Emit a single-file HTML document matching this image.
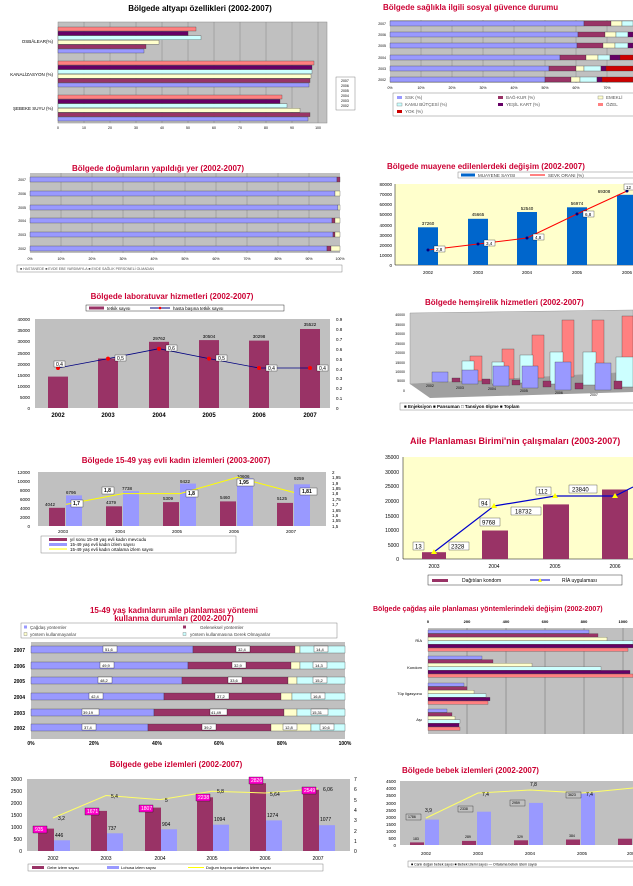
<!DOCTYPE html>
<html><head><meta charset="utf-8"><style>
body{margin:0;background:#fff}
svg{display:block}
text{font-family:"Liberation Sans",sans-serif}
.t{font-weight:bold;font-size:8px;fill:#cc0033;text-anchor:middle}
.tb{font-weight:bold;font-size:8px;fill:#000;text-anchor:middle}
.s{font-size:4.5px;fill:#000}
.m{font-size:6px;fill:#000}
.r{text-anchor:end}.c{text-anchor:middle}
</style></head><body>
<svg width="633" height="886" viewBox="0 0 633 886" xmlns="http://www.w3.org/2000/svg">
<rect width="633" height="886" fill="#fff"/>

<!-- Chart 1 -->
<text class="tb" x="200" y="11">Bölgede altyapı özellikleri (2002-2007)</text>
<rect x="58" y="22" width="269" height="101" fill="#c0c0c0" stroke="#888" stroke-width=".5"/>
<g stroke="#777" stroke-width=".4">
<line x1="84" y1="22" x2="84" y2="123"/><line x1="110" y1="22" x2="110" y2="123"/><line x1="136" y1="22" x2="136" y2="123"/><line x1="162" y1="22" x2="162" y2="123"/><line x1="188" y1="22" x2="188" y2="123"/><line x1="214" y1="22" x2="214" y2="123"/><line x1="240" y1="22" x2="240" y2="123"/><line x1="266" y1="22" x2="266" y2="123"/><line x1="292" y1="22" x2="292" y2="123"/><line x1="318" y1="22" x2="318" y2="123"/></g>
<g stroke="#333" stroke-width=".3">
<rect x="58" y="27" width="138" height="4" fill="#ff8080"/><rect x="58" y="31.4" width="130" height="4" fill="#660066"/><rect x="58" y="35.8" width="143" height="4" fill="#ccffff"/><rect x="58" y="40.2" width="101" height="4" fill="#ffffcc"/><rect x="58" y="44.6" width="88" height="4" fill="#993366"/><rect x="58" y="49" width="86" height="4" fill="#9999ff"/>
<rect x="58" y="61" width="256" height="4" fill="#ff8080"/><rect x="58" y="65.4" width="254" height="4" fill="#660066"/><rect x="58" y="69.8" width="254" height="4" fill="#ccffff"/><rect x="58" y="74.2" width="253" height="4" fill="#ffffcc"/><rect x="58" y="78.6" width="252" height="4" fill="#993366"/><rect x="58" y="83" width="251" height="4" fill="#9999ff"/>
<rect x="58" y="95" width="224" height="4" fill="#ff8080"/><rect x="58" y="99.4" width="222" height="4" fill="#660066"/><rect x="58" y="103.8" width="229" height="4" fill="#ccffff"/><rect x="58" y="108.2" width="242" height="4" fill="#ffffcc"/><rect x="58" y="112.6" width="252" height="4" fill="#993366"/><rect x="58" y="117" width="250" height="4" fill="#9999ff"/></g>
<g class="s"><text x="53" y="43" class="r">OSBÂLEAR(%)</text><text x="53" y="76" class="r">KANALİZASYON (%)</text><text x="53" y="110" class="r">ŞEBEKE SUYU (%)</text></g>
<g class="s" style="font-size:3.5px"><text x="58" y="129" class="c">0</text><text x="84" y="129" class="c">10</text><text x="110" y="129" class="c">20</text><text x="136" y="129" class="c">30</text><text x="162" y="129" class="c">40</text><text x="188" y="129" class="c">50</text><text x="214" y="129" class="c">60</text><text x="240" y="129" class="c">70</text><text x="266" y="129" class="c">80</text><text x="292" y="129" class="c">90</text><text x="318" y="129" class="c">100</text></g>
<rect x="336" y="77" width="19" height="33" fill="#fff" stroke="#666" stroke-width=".4"/>
<g class="s" style="font-size:3.5px"><text x="341" y="82">2007</text><text x="341" y="87">2006</text><text x="341" y="92">2005</text><text x="341" y="97">2004</text><text x="341" y="102">2003</text><text x="341" y="107">2002</text></g>

<!-- Chart 2 -->
<text class="t" x="510" y="10" style="text-anchor:start" transform="translate(-127 0)">Bölgede sağlıkla ilgili sosyal güvence durumu</text>
<rect x="390" y="20" width="243" height="63" fill="#c0c0c0"/>
<g stroke="#777" stroke-width=".4"><line x1="421" y1="20" x2="421" y2="83"/><line x1="452" y1="20" x2="452" y2="83"/><line x1="483" y1="20" x2="483" y2="83"/><line x1="514" y1="20" x2="514" y2="83"/><line x1="545" y1="20" x2="545" y2="83"/><line x1="576" y1="20" x2="576" y2="83"/><line x1="607" y1="20" x2="607" y2="83"/></g>
<g stroke="#333" stroke-width=".3">
<rect x="390" y="21" width="194" height="5" fill="#9999ff"/><rect x="584" y="21" width="27" height="5" fill="#993366"/><rect x="611" y="21" width="11" height="5" fill="#ffffcc"/><rect x="622" y="21" width="11" height="5" fill="#ccffff"/>
<rect x="390" y="32" width="188" height="5" fill="#9999ff"/><rect x="578" y="32" width="27" height="5" fill="#993366"/><rect x="605" y="32" width="11" height="5" fill="#ffffcc"/><rect x="616" y="32" width="12" height="5" fill="#ccffff"/><rect x="628" y="32" width="5" height="5" fill="#660066"/>
<rect x="390" y="43" width="187" height="5" fill="#9999ff"/><rect x="577" y="43" width="26" height="5" fill="#993366"/><rect x="603" y="43" width="12" height="5" fill="#ffffcc"/><rect x="615" y="43" width="13" height="5" fill="#ccffff"/><rect x="628" y="43" width="5" height="5" fill="#660066"/>
<rect x="390" y="55" width="170" height="5" fill="#9999ff"/><rect x="560" y="55" width="26" height="5" fill="#993366"/><rect x="586" y="55" width="12" height="5" fill="#ffffcc"/><rect x="598" y="55" width="12" height="5" fill="#ccffff"/><rect x="610" y="55" width="10" height="5" fill="#660066"/><rect x="620" y="55" width="13" height="5" fill="#cc0000"/>
<rect x="390" y="66" width="159" height="5" fill="#9999ff"/><rect x="549" y="66" width="27" height="5" fill="#993366"/><rect x="576" y="66" width="8" height="5" fill="#ffffcc"/><rect x="584" y="66" width="17" height="5" fill="#ccffff"/><rect x="601" y="66" width="5" height="5" fill="#660066"/><rect x="606" y="66" width="27" height="5" fill="#cc0000"/>
<rect x="390" y="77" width="155" height="5" fill="#9999ff"/><rect x="545" y="77" width="26" height="5" fill="#993366"/><rect x="571" y="77" width="9" height="5" fill="#ffffcc"/><rect x="580" y="77" width="17" height="5" fill="#ccffff"/><rect x="597" y="77" width="5" height="5" fill="#660066"/><rect x="602" y="77" width="31" height="5" fill="#cc0000"/></g>
<g class="s" style="font-size:3.5px"><text x="386" y="25" class="r">2007</text><text x="386" y="36" class="r">2006</text><text x="386" y="47" class="r">2005</text><text x="386" y="59" class="r">2004</text><text x="386" y="70" class="r">2003</text><text x="386" y="81" class="r">2002</text>
<text x="390" y="89" class="c">0%</text><text x="421" y="89" class="c">10%</text><text x="452" y="89" class="c">20%</text><text x="483" y="89" class="c">30%</text><text x="514" y="89" class="c">40%</text><text x="545" y="89" class="c">50%</text><text x="576" y="89" class="c">60%</text><text x="607" y="89" class="c">70%</text></g>
<rect x="393" y="93" width="245" height="23" fill="#fff" stroke="#666" stroke-width=".4"/>
<g class="s" style="fill:#555"><rect x="397" y="96" width="5" height="3" fill="#9999ff"/><text x="405" y="99">SSK (%)</text><rect x="498" y="96" width="5" height="3" fill="#993366"/><text x="506" y="99">BAĞ-KUR (%)</text><rect x="598" y="96" width="5" height="3" fill="#ffffcc" stroke="#555" stroke-width=".3"/><text x="606" y="99">EMEKLİ</text>
<rect x="397" y="103" width="5" height="3" fill="#ccffff" stroke="#555" stroke-width=".3"/><text x="405" y="106">KAMU BÜTÇESİ (%)</text><rect x="498" y="103" width="5" height="3" fill="#660066"/><text x="506" y="106">YEŞİL KART (%)</text><rect x="598" y="103" width="5" height="3" fill="#ff8080"/><text x="606" y="106">ÖZEL</text>
<rect x="397" y="110" width="5" height="3" fill="#cc0000"/><text x="405" y="113">YOK (%)</text></g>

<!-- Chart 3 -->
<text class="t" x="158" y="171">Bölgede doğumların yapıldığı yer (2002-2007)</text>
<rect x="30" y="173" width="310" height="80" fill="#c0c0c0"/>
<g stroke="#777" stroke-width=".4"><line x1="61" y1="173" x2="61" y2="253"/><line x1="92" y1="173" x2="92" y2="253"/><line x1="123" y1="173" x2="123" y2="253"/><line x1="154" y1="173" x2="154" y2="253"/><line x1="185" y1="173" x2="185" y2="253"/><line x1="216" y1="173" x2="216" y2="253"/><line x1="247" y1="173" x2="247" y2="253"/><line x1="278" y1="173" x2="278" y2="253"/><line x1="309" y1="173" x2="309" y2="253"/></g>
<g stroke="#333" stroke-width=".3">
<rect x="30" y="177" width="307" height="5" fill="#9999ff"/><rect x="337" y="177" width="3" height="5" fill="#993366"/>
<rect x="30" y="191" width="305" height="5" fill="#9999ff"/><rect x="335" y="191" width="5" height="5" fill="#ffffcc"/>
<rect x="30" y="205" width="308" height="5" fill="#9999ff"/><rect x="338" y="205" width="2" height="5" fill="#ffffcc"/>
<rect x="30" y="218" width="302" height="5" fill="#9999ff"/><rect x="332" y="218" width="3" height="5" fill="#993366"/><rect x="335" y="218" width="5" height="5" fill="#ffffcc"/>
<rect x="30" y="232" width="303" height="5" fill="#9999ff"/><rect x="333" y="232" width="2" height="5" fill="#993366"/><rect x="335" y="232" width="5" height="5" fill="#ffffcc"/>
<rect x="30" y="246" width="297" height="5" fill="#9999ff"/><rect x="327" y="246" width="4" height="5" fill="#993366"/><rect x="331" y="246" width="9" height="5" fill="#ffffcc"/></g>
<g class="s" style="font-size:3.5px"><text x="26" y="181" class="r">2007</text><text x="26" y="195" class="r">2006</text><text x="26" y="209" class="r">2005</text><text x="26" y="222" class="r">2004</text><text x="26" y="236" class="r">2003</text><text x="26" y="250" class="r">2002</text>
<text x="30" y="260" class="c">0%</text><text x="61" y="260" class="c">10%</text><text x="92" y="260" class="c">20%</text><text x="123" y="260" class="c">30%</text><text x="154" y="260" class="c">40%</text><text x="185" y="260" class="c">50%</text><text x="216" y="260" class="c">60%</text><text x="247" y="260" class="c">70%</text><text x="278" y="260" class="c">80%</text><text x="309" y="260" class="c">90%</text><text x="340" y="260" class="c">100%</text></g>
<rect x="17" y="265" width="325" height="7" fill="#fff" stroke="#666" stroke-width=".4"/>
<text class="s" x="20" y="270" style="font-size:3.5px;fill:#555">■ HASTANEDE  ■ EVDE EBE YARDIMIYLA  ■ EVDE SAĞLIK PERSONELİ OLMADAN</text>

<!-- Chart 4 -->
<text class="t" x="387" y="169" style="text-anchor:start">Bölgede muayene edilenlerdeki değişim (2002-2007)</text>
<rect x="458" y="172" width="180" height="6" fill="#fff" stroke="#666" stroke-width=".4"/>
<rect x="461" y="173.5" width="14" height="3" fill="#0066cc"/><text class="s" x="478" y="177" style="fill:#444">MUAYENE SAYISI</text>
<line x1="530" y1="175" x2="545" y2="175" stroke="#f00"/><text class="s" x="548" y="177" style="fill:#444">SEVK ORANI (%)</text>
<rect x="395" y="184" width="238" height="81" fill="#ffffcc"/>
<line x1="395" y1="184" x2="395" y2="265" stroke="#000" stroke-width=".5"/><line x1="395" y1="265" x2="633" y2="265" stroke="#000" stroke-width=".5"/>
<g class="s"><text x="392" y="267" class="r">0</text><text x="392" y="257" class="r">10000</text><text x="392" y="247" class="r">20000</text><text x="392" y="237" class="r">30000</text><text x="392" y="227" class="r">40000</text><text x="392" y="216" class="r">50000</text><text x="392" y="206" class="r">60000</text><text x="392" y="196" class="r">70000</text><text x="392" y="186" class="r">80000</text>
<text x="428" y="274" class="c">2002</text><text x="478" y="274" class="c">2003</text><text x="527" y="274" class="c">2004</text><text x="577" y="274" class="c">2005</text><text x="627" y="274" class="c">2006</text>
<text x="428" y="225" class="c">37260</text><text x="478" y="216" class="c">45665</text><text x="527" y="210" class="c">52540</text><text x="577" y="205" class="c">56974</text><text x="604" y="193" class="c">69308</text></g>
<g fill="#0066cc"><rect x="418" y="227.3" width="20" height="37.7"/><rect x="468" y="218.8" width="20" height="46.2"/><rect x="517" y="212" width="20" height="53"/><rect x="567" y="207.3" width="20" height="57.7"/><rect x="617" y="194.8" width="20" height="70.2"/></g>
<polyline points="428,250 478,244 527,238 577,214 627,191" fill="none" stroke="#f00" stroke-width="1"/>
<g fill="#000080"><circle cx="428" cy="250" r="1.5"/><circle cx="478" cy="244" r="1.5"/><circle cx="527" cy="238" r="1.5"/><circle cx="577" cy="214" r="1.5"/><circle cx="627" cy="191" r="1.5"/></g>
<g class="s"><rect x="434" y="246" width="11" height="6" fill="#fff" stroke="#000" stroke-width=".3"/><text x="436" y="251">2,8</text><rect x="484" y="240" width="11" height="6" fill="#fff" stroke="#000" stroke-width=".3"/><text x="486" y="245">3,4</text><rect x="533" y="234" width="11" height="6" fill="#fff" stroke="#000" stroke-width=".3"/><text x="535" y="239">4,8</text><rect x="583" y="211" width="11" height="6" fill="#fff" stroke="#000" stroke-width=".3"/><text x="585" y="216">6,8</text><rect x="624" y="184" width="11" height="6" fill="#fff" stroke="#000" stroke-width=".3"/><text x="626" y="189">12</text></g>

<!-- Chart 5 -->
<text class="t" x="172" y="299">Bölgede laboratuvar hizmetleri (2002-2007)</text>
<rect x="86" y="305" width="198" height="6" fill="#fff" stroke="#000" stroke-width=".4"/>
<rect x="89" y="306.5" width="15" height="3" fill="#993366"/><text class="s" x="107" y="310">tetkik sayısı</text>
<line x1="150" y1="308" x2="170" y2="308" stroke="#000080"/><circle cx="160" cy="308" r="1.3" fill="#f00"/><text class="s" x="173" y="310">hasta başına tetkik sayısı</text>
<rect x="35" y="319" width="295" height="89" fill="#c0c0c0"/>
<g class="s"><text x="30" y="410" class="r">0</text><text x="30" y="399" class="r">5000</text><text x="30" y="388" class="r">10000</text><text x="30" y="377" class="r">15000</text><text x="30" y="366" class="r">20000</text><text x="30" y="355" class="r">25000</text><text x="30" y="343" class="r">30000</text><text x="30" y="332" class="r">35000</text><text x="30" y="321" class="r">40000</text>
<text x="336" y="410">0</text><text x="336" y="400">0.1</text><text x="336" y="390">0.2</text><text x="336" y="380">0.3</text><text x="336" y="371">0.4</text><text x="336" y="361">0.5</text><text x="336" y="351">0.6</text><text x="336" y="341">0.7</text><text x="336" y="331">0.8</text><text x="336" y="321">0.9</text>
<text x="58" y="391" class="c">14126</text><text x="108" y="373" class="c">22260</text><text x="159" y="340" class="c">29762</text><text x="209" y="338" class="c">30504</text><text x="259" y="338" class="c">30298</text><text x="310" y="326" class="c">35522</text></g>
<g fill="#993366"><rect x="48" y="376.6" width="20" height="31.4"/><rect x="98" y="358.5" width="20" height="49.5"/><rect x="149" y="341.8" width="20" height="66.2"/><rect x="199" y="340.1" width="20" height="67.9"/><rect x="249" y="340.6" width="20" height="67.4"/><rect x="300" y="329" width="20" height="79"/></g>
<polyline points="58,368 108,358.6 159,348.7 209,358.6 259,368 310,368" fill="none" stroke="#000080" stroke-width=".8"/>
<g fill="#f00"><circle cx="58" cy="368" r="2"/><circle cx="108" cy="358.6" r="2"/><circle cx="159" cy="348.7" r="2"/><circle cx="209" cy="358.6" r="2"/><circle cx="259" cy="368" r="2"/><circle cx="310" cy="368" r="2"/></g>
<g class="s" style="font-size:5px"><rect x="54" y="361" width="11" height="6" fill="#fff" stroke="#000" stroke-width=".3"/><text x="56" y="366">0,4</text><rect x="115" y="355" width="11" height="6" fill="#fff" stroke="#000" stroke-width=".3"/><text x="117" y="360">0,5</text><rect x="166" y="345" width="11" height="6" fill="#fff" stroke="#000" stroke-width=".3"/><text x="168" y="350">0,6</text><rect x="216" y="355" width="11" height="6" fill="#fff" stroke="#000" stroke-width=".3"/><text x="218" y="360">0,5</text><rect x="266" y="365" width="11" height="6" fill="#fff" stroke="#000" stroke-width=".3"/><text x="268" y="370">0,4</text><rect x="317" y="365" width="11" height="6" fill="#fff" stroke="#000" stroke-width=".3"/><text x="319" y="370">0,4</text></g>
<g class="m" style="font-weight:bold;font-size:6px"><text x="58" y="417" class="c">2002</text><text x="108" y="417" class="c">2003</text><text x="159" y="417" class="c">2004</text><text x="209" y="417" class="c">2005</text><text x="259" y="417" class="c">2006</text><text x="310" y="417" class="c">2007</text></g>

<!-- Chart 6 (3D) -->
<text class="t" x="425" y="305" style="text-anchor:start">Bölgede hemşirelik hizmetleri (2002-2007)</text>
<polygon points="410,313 633,310 633,372 410,384" fill="#c8c8c8" stroke="#888" stroke-width=".4"/>
<polygon points="410,384 633,372 633,392 430,398" fill="#a0a0a0"/>
<g class="s" style="font-size:3.5px"><text x="405" y="316" class="r">40000</text><text x="405" y="326" class="r">35000</text><text x="405" y="335" class="r">30000</text><text x="405" y="345" class="r">25000</text><text x="405" y="354" class="r">20000</text><text x="405" y="364" class="r">15000</text><text x="405" y="373" class="r">10000</text><text x="405" y="382" class="r">5000</text><text x="405" y="392" class="r">0</text></g>
<g stroke="#333" stroke-width=".3">
<rect x="470" y="356" width="12" height="25" fill="#ff8080"/><rect x="502" y="349" width="12" height="30" fill="#ff8080"/><rect x="532" y="335" width="12" height="43" fill="#ff8080"/><rect x="562" y="320" width="12" height="57" fill="#ff8080"/><rect x="592" y="320" width="12" height="56" fill="#ff8080"/><rect x="622" y="316" width="11" height="59" fill="#ff8080"/>
<rect x="462" y="361" width="12" height="22" fill="#ccffff"/><rect x="492" y="362" width="12" height="22" fill="#ccffff"/><rect x="520" y="355" width="13" height="28" fill="#ccffff"/><rect x="550" y="352" width="13" height="32" fill="#ccffff"/><rect x="583" y="352" width="13" height="33" fill="#ccffff"/><rect x="616" y="357" width="17" height="30" fill="#ccffff"/>
<rect x="432" y="372" width="16" height="10" fill="#9999ff"/><rect x="462" y="370" width="16" height="14" fill="#9999ff"/><rect x="493" y="366" width="16" height="20" fill="#9999ff"/><rect x="522" y="366" width="16" height="22" fill="#9999ff"/><rect x="555" y="362" width="16" height="28" fill="#9999ff"/><rect x="595" y="363" width="16" height="27" fill="#9999ff"/>
<rect x="452" y="378" width="8" height="4" fill="#993366"/><rect x="482" y="379" width="8" height="5" fill="#993366"/><rect x="512" y="380" width="8" height="5" fill="#993366"/><rect x="543" y="381" width="8" height="6" fill="#993366"/><rect x="575" y="383" width="8" height="6" fill="#993366"/><rect x="614" y="381" width="8" height="8" fill="#993366"/></g>
<g class="s" style="font-size:3.5px"><text x="426" y="387">2002</text><text x="456" y="389">2003</text><text x="488" y="390">2004</text><text x="520" y="392">2005</text><text x="555" y="394">2006</text><text x="590" y="396">2007</text></g>
<rect x="400" y="403" width="236" height="7" fill="#fff" stroke="#666" stroke-width=".4"/>
<text class="s" x="404" y="408" style="font-weight:bold">■ Enjeksiyon  ■ Pansuman  □ Tansiyon ölçme  ■ Toplam</text>

<!-- Chart 7 -->
<text class="t" x="176" y="463">Bölgede 15-49 yaş evli kadın izlemleri (2003-2007)</text>
<rect x="38" y="472" width="288" height="54" fill="#c0c0c0"/>
<g class="s"><text x="30" y="528" class="r">0</text><text x="30" y="519" class="r">2000</text><text x="30" y="510" class="r">4000</text><text x="30" y="501" class="r">6000</text><text x="30" y="492" class="r">8000</text><text x="30" y="483" class="r">10000</text><text x="30" y="474" class="r">12000</text>
<text x="332" y="474">2</text><text x="332" y="479">1,95</text><text x="332" y="485">1,9</text><text x="332" y="490">1,85</text><text x="332" y="495">1,8</text><text x="332" y="501">1,75</text><text x="332" y="506">1,7</text><text x="332" y="512">1,65</text><text x="332" y="517">1,6</text><text x="332" y="522">1,55</text><text x="332" y="528">1,5</text>
<text x="63" y="533" class="c">2003</text><text x="120" y="533" class="c">2004</text><text x="177" y="533" class="c">2005</text><text x="234" y="533" class="c">2006</text><text x="291" y="533" class="c">2007</text>
<text x="45" y="506">4042</text><text x="66" y="494">6796</text><text x="106" y="504">4379</text><text x="122" y="490">7738</text><text x="163" y="500">5309</text><text x="180" y="483">9422</text><text x="220" y="499">5460</text><text x="237" y="478">10606</text><text x="277" y="500">5125</text><text x="294" y="480">9259</text></g>
<g fill="#993366"><rect x="49" y="507.8" width="16" height="18.2"/><rect x="106" y="506.3" width="16" height="19.7"/><rect x="163" y="502.1" width="16" height="23.9"/><rect x="220" y="501.4" width="16" height="24.6"/><rect x="277" y="502.9" width="16" height="23.1"/></g>
<g fill="#9999ff"><rect x="66" y="495.4" width="16" height="30.6"/><rect x="123" y="491.2" width="16" height="34.8"/><rect x="180" y="483.6" width="16" height="42.4"/><rect x="237" y="478.3" width="16" height="47.7"/><rect x="294" y="484.3" width="16" height="41.7"/></g>
<polyline points="66,504.4 123,493.6 180,493.6 237,477.4 294,492.5" fill="none" stroke="#ffff00" stroke-width="1"/>
<g class="s" style="font-weight:bold;font-size:5px"><rect x="71" y="500" width="12" height="7" fill="#fff" stroke="#000" stroke-width=".3"/><text x="73" y="505">1,7</text><rect x="102" y="487" width="12" height="7" fill="#fff" stroke="#000" stroke-width=".3"/><text x="104" y="492">1,8</text><rect x="186" y="490" width="12" height="7" fill="#fff" stroke="#000" stroke-width=".3"/><text x="188" y="495">1,8</text><rect x="237" y="479" width="17" height="7" fill="#fff" stroke="#000" stroke-width=".3"/><text x="239" y="484">1,95</text><rect x="300" y="488" width="17" height="7" fill="#fff" stroke="#000" stroke-width=".3"/><text x="302" y="493">1,81</text></g>
<rect x="41" y="536" width="195" height="17" fill="#fff" stroke="#666" stroke-width=".4"/>
<rect x="49" y="538" width="18" height="3" fill="#993366"/><text class="s" x="70" y="541">yıl sonu 15-49 yaş evli kadın mevcudu</text>
<rect x="49" y="543" width="18" height="3" fill="#9999ff"/><text class="s" x="70" y="546">15-49 yaş evli kadın izlem sayısı</text>
<line x1="49" y1="549" x2="67" y2="549" stroke="#ff0"/><text class="s" x="70" y="551">15-49 yaş evli kadın ortalama izlem sayısı</text>

<!-- Chart 8 -->
<text class="t" x="410" y="144" style="text-anchor:start;font-size:9px" transform="translate(0 300)">Aile Planlaması Birimi'nin çalışmaları (2003-2007)</text>
<rect x="403" y="457" width="230" height="102" fill="#ffffcc"/>
<line x1="403" y1="457" x2="403" y2="559" stroke="#000" stroke-width=".5"/><line x1="403" y1="559" x2="633" y2="559" stroke="#000" stroke-width=".5"/>
<g class="s" style="font-size:5px"><text x="399" y="561" class="r">0</text><text x="399" y="547" class="r">5000</text><text x="399" y="532" class="r">10000</text><text x="399" y="518" class="r">15000</text><text x="399" y="503" class="r">20000</text><text x="399" y="488" class="r">25000</text><text x="399" y="474" class="r">30000</text><text x="399" y="459" class="r">35000</text>
<text x="434" y="568" class="c">2003</text><text x="494" y="568" class="c">2004</text><text x="555" y="568" class="c">2005</text><text x="615" y="568" class="c">2006</text></g>
<g fill="#993366"><rect x="422" y="552.2" width="24" height="6.8"/><rect x="482" y="530.5" width="26" height="28.5"/><rect x="543" y="504.4" width="26" height="54.6"/><rect x="602" y="489.5" width="26" height="69.5"/></g>
<polyline points="434,552 494,506 555,496 615,496 633,487" fill="none" stroke="#0000cc" stroke-width="1.2"/>
<g fill="#ffff00"><polygon points="434,549 431,554 437,554"/><polygon points="494,503 491,508 497,508"/><polygon points="555,493 552,498 558,498"/><polygon points="615,493 612,498 618,498"/></g>
<g class="s" style="font-size:6px"><rect x="413" y="542" width="11" height="8" fill="#fff" stroke="#000" stroke-width=".3"/><text x="415" y="548.5">13</text><rect x="449" y="542" width="20" height="8" fill="#fff" stroke="#000" stroke-width=".3"/><text x="451" y="548.5">2328</text>
<rect x="479" y="499" width="11" height="8" fill="#fff" stroke="#000" stroke-width=".3"/><text x="481" y="505.5">94</text><rect x="480" y="518" width="20" height="8" fill="#fff" stroke="#000" stroke-width=".3"/><text x="482" y="524.5">9768</text>
<rect x="536" y="487" width="15" height="8" fill="#fff" stroke="#000" stroke-width=".3"/><text x="538" y="493.5">112</text><rect x="511" y="507" width="30" height="8" fill="#fff" stroke="#000" stroke-width=".3"/><text x="515" y="513.5">18732</text>
<rect x="569" y="485" width="28" height="8" fill="#fff" stroke="#000" stroke-width=".3"/><text x="572" y="491.5">23840</text></g>
<rect x="428" y="575" width="194" height="10" fill="#fff" stroke="#000" stroke-width=".4"/>
<rect x="432" y="579" width="16" height="3" fill="#993366"/><text class="s" x="462" y="582" style="font-size:5px">Dağıtılan kondom</text>
<line x1="530" y1="580" x2="550" y2="580" stroke="#0000cc"/><polygon points="540,578 538,582 542,582" fill="#ff0"/><text class="s" x="562" y="582" style="font-size:5px">RİA uygulaması</text>

<!-- Chart 9 -->
<text class="t" x="174" y="613">15-49 yaş kadınların aile planlaması yöntemi</text>
<text class="t" x="174" y="621">kullanma durumları (2002-2007)</text>
<rect x="21" y="623" width="316" height="15" fill="#fff" stroke="#666" stroke-width=".4"/>
<g class="s" style="fill:#444"><rect x="24" y="625.5" width="3" height="3" fill="#9999ff"/><text x="30" y="629">Çağdaş yöntemler</text><rect x="183" y="625.5" width="3" height="3" fill="#993366"/><text x="200" y="629">Geleneksel yöntemler</text>
<rect x="24" y="632.5" width="3" height="3" fill="#ffffcc" stroke="#555" stroke-width=".3"/><text x="30" y="636">yöntem kullanmayanlar</text><rect x="183" y="632.5" width="3" height="3" fill="#ccffff" stroke="#555" stroke-width=".3"/><text x="190" y="636">yöntem kullanmasına Gerek Olmayanlar</text></g>
<rect x="31" y="642" width="314" height="97" fill="#c0c0c0"/>
<g stroke="#333" stroke-width=".3">
<rect x="31" y="646" width="162" height="7" fill="#9999ff"/><rect x="193" y="646" width="102" height="7" fill="#993366"/><rect x="295" y="646" width="5" height="7" fill="#ffffcc"/><rect x="300" y="646" width="45" height="7" fill="#ccffff"/>
<rect x="31" y="662" width="157" height="7" fill="#9999ff"/><rect x="188" y="662" width="103" height="7" fill="#993366"/><rect x="291" y="662" width="9" height="7" fill="#ffffcc"/><rect x="300" y="662" width="45" height="7" fill="#ccffff"/>
<rect x="31" y="677" width="151" height="7" fill="#9999ff"/><rect x="182" y="677" width="106" height="7" fill="#993366"/><rect x="288" y="677" width="9" height="7" fill="#ffffcc"/><rect x="297" y="677" width="48" height="7" fill="#ccffff"/>
<rect x="31" y="693" width="133" height="7" fill="#9999ff"/><rect x="164" y="693" width="117" height="7" fill="#993366"/><rect x="281" y="693" width="11" height="7" fill="#ffffcc"/><rect x="292" y="693" width="53" height="7" fill="#ccffff"/>
<rect x="31" y="709" width="123" height="7" fill="#9999ff"/><rect x="154" y="709" width="130" height="7" fill="#993366"/><rect x="284" y="709" width="13" height="7" fill="#ffffcc"/><rect x="297" y="709" width="48" height="7" fill="#ccffff"/>
<rect x="31" y="724" width="117" height="7" fill="#9999ff"/><rect x="148" y="724" width="123" height="7" fill="#993366"/><rect x="271" y="724" width="40" height="7" fill="#ffffcc"/><rect x="311" y="724" width="34" height="7" fill="#ccffff"/></g>
<g class="s" style="font-size:4px"><g fill="#fff" stroke="#000" stroke-width=".3">
<rect x="103" y="646" width="14" height="6"/><rect x="236" y="646" width="14" height="6"/><rect x="314" y="646" width="14" height="6"/>
<rect x="100" y="662" width="14" height="6"/><rect x="232" y="662" width="14" height="6"/><rect x="313" y="662" width="14" height="6"/>
<rect x="98" y="677" width="14" height="6"/><rect x="228" y="677" width="14" height="6"/><rect x="313" y="677" width="14" height="6"/>
<rect x="89" y="693" width="14" height="6"/><rect x="215" y="693" width="14" height="6"/><rect x="311" y="693" width="14" height="6"/>
<rect x="82" y="709" width="17" height="6"/><rect x="210" y="709" width="17" height="6"/><rect x="311" y="709" width="17" height="6"/>
<rect x="82" y="724" width="14" height="6"/><rect x="202" y="724" width="14" height="6"/><rect x="283" y="724" width="14" height="6"/><rect x="320" y="724" width="14" height="6"/></g>
<text x="105" y="651">51,6</text><text x="238" y="651">32,4</text><text x="316" y="651">14,4</text><text x="102" y="667">49,9</text><text x="234" y="667">32,9</text><text x="315" y="667">14,3</text><text x="100" y="682">48,2</text><text x="230" y="682">33,6</text><text x="315" y="682">15,2</text><text x="91" y="698">42,4</text><text x="217" y="698">37,2</text><text x="313" y="698">16,8</text><text x="83" y="714">39,19</text><text x="211" y="714">41,49</text><text x="312" y="714">15,31</text><text x="84" y="729">37,4</text><text x="204" y="729">39,2</text><text x="285" y="729">12,8</text><text x="322" y="729">10,6</text></g>
<g class="s" style="font-weight:bold;font-size:5px"><text x="25" y="652" class="r">2007</text><text x="25" y="668" class="r">2006</text><text x="25" y="683" class="r">2005</text><text x="25" y="699" class="r">2004</text><text x="25" y="715" class="r">2003</text><text x="25" y="730" class="r">2002</text>
<text x="31" y="745" class="c">0%</text><text x="94" y="745" class="c">20%</text><text x="157" y="745" class="c">40%</text><text x="219" y="745" class="c">60%</text><text x="282" y="745" class="c">80%</text><text x="345" y="745" class="c">100%</text></g>

<!-- Chart 10 -->
<text class="t" x="373" y="611" style="text-anchor:start;font-size:7px">Bölgede çağdaş aile planlaması yöntemlerindeki değişim (2002-2007)</text>
<g class="s" style="font-size:4px;font-weight:bold"><text x="428" y="623" class="c">0</text><text x="467" y="623" class="c">200</text><text x="506" y="623" class="c">400</text><text x="545" y="623" class="c">600</text><text x="584" y="623" class="c">800</text><text x="623" y="623" class="c">1000</text></g>
<rect x="428" y="628" width="205" height="106" fill="#c0c0c0"/>
<g stroke="#555" stroke-width=".4"><line x1="467" y1="628" x2="467" y2="734"/><line x1="506" y1="628" x2="506" y2="734"/><line x1="545" y1="628" x2="545" y2="734"/><line x1="584" y1="628" x2="584" y2="734"/><line x1="623" y1="628" x2="623" y2="734"/></g>
<g stroke="#333" stroke-width=".25">
<rect x="428" y="630" width="161" height="3.4" fill="#9999ff"/><rect x="428" y="633.6" width="170" height="3.4" fill="#993366"/><rect x="428" y="637.2" width="179" height="3.4" fill="#ffffcc"/><rect x="428" y="640.8" width="205" height="3.4" fill="#ccffff"/><rect x="428" y="644.4" width="205" height="3.4" fill="#660066"/><rect x="428" y="648" width="200" height="3.4" fill="#ff8080"/>
<rect x="428" y="656" width="54" height="3.4" fill="#9999ff"/><rect x="428" y="659.6" width="65" height="3.4" fill="#993366"/><rect x="428" y="663.2" width="104" height="3.4" fill="#ffffcc"/><rect x="428" y="666.8" width="173" height="3.4" fill="#ccffff"/><rect x="428" y="670.4" width="202" height="3.4" fill="#660066"/><rect x="428" y="674" width="205" height="3.4" fill="#ff8080"/>
<rect x="428" y="683" width="36" height="3.4" fill="#9999ff"/><rect x="428" y="686.6" width="39" height="3.4" fill="#993366"/><rect x="428" y="690.2" width="46" height="3.4" fill="#ffffcc"/><rect x="428" y="693.8" width="58" height="3.4" fill="#ccffff"/><rect x="428" y="697.4" width="62" height="3.4" fill="#660066"/><rect x="428" y="701" width="60" height="3.4" fill="#ff8080"/>
<rect x="428" y="709" width="19" height="3.4" fill="#9999ff"/><rect x="428" y="712.6" width="24" height="3.4" fill="#993366"/><rect x="428" y="716.2" width="27" height="3.4" fill="#ffffcc"/><rect x="428" y="719.8" width="32" height="3.4" fill="#ccffff"/><rect x="428" y="723.4" width="31" height="3.4" fill="#660066"/><rect x="428" y="727" width="32" height="3.4" fill="#ff8080"/></g>
<g class="s" style="font-size:4px"><text x="422" y="642" class="r">RİA</text><text x="422" y="669" class="r">Kondom</text><text x="422" y="695" class="r">Tüp ligasyonu</text><text x="422" y="721" class="r">Aşı</text></g>

<!-- Chart 11 -->
<text class="t" x="176" y="767">Bölgede gebe izlemleri (2002-2007)</text>
<rect x="27" y="779" width="323" height="72" fill="#c0c0c0"/>
<g class="s" style="font-size:5px"><text x="22" y="853" class="r">0</text><text x="22" y="841" class="r">500</text><text x="22" y="829" class="r">1000</text><text x="22" y="817" class="r">1500</text><text x="22" y="805" class="r">2000</text><text x="22" y="793" class="r">2500</text><text x="22" y="781" class="r">3000</text>
<text x="354" y="853">0</text><text x="354" y="843">1</text><text x="354" y="833">2</text><text x="354" y="822">3</text><text x="354" y="812">4</text><text x="354" y="802">5</text><text x="354" y="791">6</text><text x="354" y="781">7</text>
<text x="53" y="860" class="c">2002</text><text x="106" y="860" class="c">2003</text><text x="160" y="860" class="c">2004</text><text x="212" y="860" class="c">2005</text><text x="265" y="860" class="c">2006</text><text x="318" y="860" class="c">2007</text>
<text x="55" y="837">446</text><text x="108" y="830">737</text><text x="162" y="826">904</text><text x="214" y="821">1094</text><text x="267" y="817">1274</text><text x="320" y="821">1077</text></g>
<g fill="#993366"><rect x="38" y="828.6" width="16" height="22.4"/><rect x="91" y="810.9" width="16" height="40.1"/><rect x="145" y="807.6" width="16" height="43.4"/><rect x="197" y="797.3" width="16" height="53.7"/><rect x="250" y="783.2" width="16" height="67.8"/><rect x="303" y="789.8" width="16" height="61.2"/></g>
<g fill="#9999ff"><rect x="54" y="840.3" width="16" height="10.7"/><rect x="107" y="833.3" width="16" height="17.7"/><rect x="161" y="829.3" width="16" height="21.7"/><rect x="213" y="824.7" width="16" height="26.3"/><rect x="266" y="820.4" width="16" height="30.6"/><rect x="319" y="825.2" width="16" height="25.8"/></g>
<polyline points="53,818 106,795.5 160,799.6 212,791.3 265,793 318,788.7" fill="none" stroke="#ffff66" stroke-width="1"/>
<g class="s" style="font-size:5px;fill:#fff"><g fill="#ff00cc" stroke="#000" stroke-width=".3"><rect x="33" y="826" width="14" height="7"/><rect x="85" y="808" width="14" height="7"/><rect x="139" y="805" width="14" height="7"/><rect x="196" y="794" width="14" height="7"/><rect x="249" y="777" width="14" height="7"/><rect x="302" y="787" width="14" height="7"/></g>
<text x="35" y="831">935</text><text x="87" y="813">1671</text><text x="141" y="810">1807</text><text x="198" y="799">2238</text><text x="251" y="782">2826</text><text x="304" y="792">2549</text></g>
<g class="s" style="font-size:5px"><text x="58" y="820">3,2</text><text x="111" y="798">5,4</text><text x="165" y="802">5</text><text x="217" y="793">5,8</text><text x="270" y="796">5,64</text><text x="323" y="791">6,06</text></g>
<rect x="28" y="864" width="295" height="7" fill="#fff" stroke="#666" stroke-width=".4"/>
<rect x="32" y="866" width="12" height="3" fill="#993366"/><text class="s" x="47" y="869" style="font-size:4px">Gebe izlem sayısı</text>
<rect x="107" y="866" width="12" height="3" fill="#9999ff"/><text class="s" x="121" y="869" style="font-size:4px">Lohusa izlem sayısı</text>
<line x1="188" y1="867.5" x2="204" y2="867.5" stroke="#ff0"/><text class="s" x="206" y="869" style="font-size:4px">Doğum başına ortalama izlem sayısı</text>

<!-- Chart 12 -->
<text class="t" x="402" y="773" style="text-anchor:start">Bölgede bebek izlemleri (2002-2007)</text>
<rect x="400" y="781" width="233" height="64" fill="#c0c0c0"/>
<g class="s" style="font-size:4.5px"><text x="396" y="847" class="r">0</text><text x="396" y="840" class="r">500</text><text x="396" y="833" class="r">1000</text><text x="396" y="826" class="r">1500</text><text x="396" y="819" class="r">2000</text><text x="396" y="812" class="r">2500</text><text x="396" y="805" class="r">3000</text><text x="396" y="797" class="r">3500</text><text x="396" y="790" class="r">4000</text><text x="396" y="783" class="r">4500</text>
<text x="426" y="855" class="c">2002</text><text x="478" y="855" class="c">2003</text><text x="530" y="855" class="c">2004</text><text x="582" y="855" class="c">2005</text><text x="632" y="855" class="c">2006</text></g>
<g fill="#993366"><rect x="410" y="842.4" width="14" height="2.6"/><rect x="462" y="840.9" width="14" height="4.1"/><rect x="514" y="840.3" width="14" height="4.7"/><rect x="566" y="839.5" width="14" height="5.5"/><rect x="618" y="838.7" width="14" height="6.3"/></g>
<g fill="#9999ff"><rect x="425" y="819.6" width="14" height="25.4"/><rect x="477" y="811.7" width="14" height="33.3"/><rect x="529" y="802.9" width="14" height="42.1"/><rect x="581" y="793.5" width="14" height="51.5"/></g>
<polyline points="426,818 478,793 530,790 582,793 633,788" fill="none" stroke="#ffff66" stroke-width="1"/>
<g class="s" style="font-size:3.5px"><g fill="#c0c0c0" stroke="#000" stroke-width=".3"><rect x="406" y="814" width="15" height="6"/><rect x="458" y="806" width="15" height="6"/><rect x="510" y="800" width="15" height="6"/><rect x="566" y="792" width="15" height="6"/></g>
<text x="408" y="818">1786</text><text x="460" y="810">2338</text><text x="512" y="804">2959</text><text x="568" y="796">3623</text>
<text x="413" y="840">183</text><text x="465" y="838">289</text><text x="517" y="838">329</text><text x="569" y="837">384</text></g>
<g class="s" style="font-size:5px"><text x="425" y="812">3,9</text><text x="482" y="796">7,4</text><text x="530" y="786">7,8</text><text x="586" y="796">7,4</text></g>
<rect x="408" y="861" width="228" height="6" fill="#fff" stroke="#666" stroke-width=".4"/>
<text class="s" x="411" y="865.5" style="font-size:3.5px">■ Canlı doğan bebek sayısı  ■ Bebek izlemi sayısı  — Ortalama bebek izlem sayısı</text>
</svg>
</body></html>
